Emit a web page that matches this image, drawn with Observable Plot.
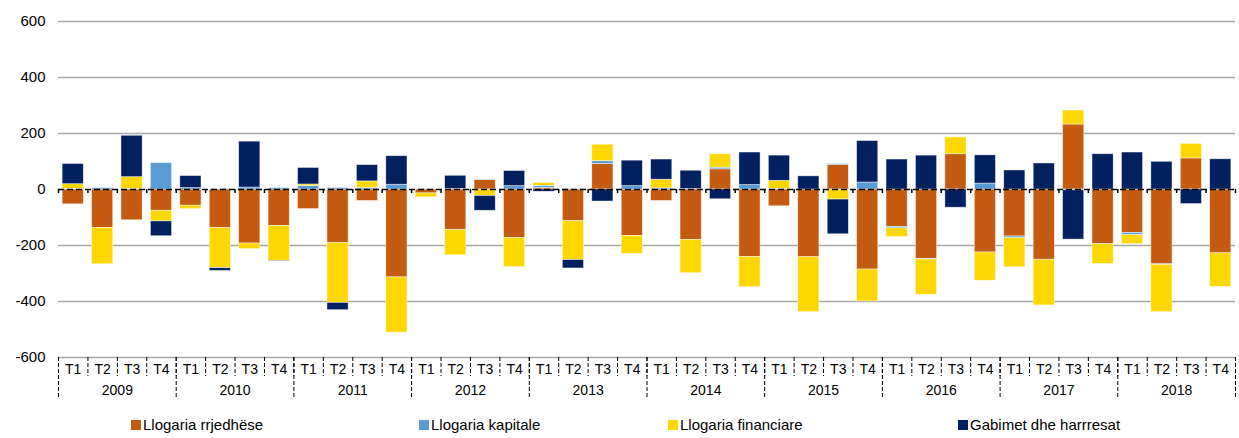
<!DOCTYPE html>
<html>
<head>
<meta charset="utf-8">
<script src="https://cdn.jsdelivr.net/npm/d3@7"></script>
<script src="https://cdn.jsdelivr.net/npm/@observablehq/plot@0.6"></script>
<style>
  body { margin: 0; background: #fff; font-family: "Liberation Sans", Arial, sans-serif; }
  #chart svg { display: block; }
  #legend { position: relative; width: 1239px; height: 33px; }
  .item { position: absolute; top: 11px; font-size: 15px; color: #000; display: flex; align-items: center; white-space: nowrap; }
  .sw { width: 10px; height: 10px; margin-right: 2px; display: inline-block; }
</style>
</head>
<body>
<div id="chart"></div>
<div id="legend"></div>
<script>
const years = ["2009","2010","2011","2012","2013","2014","2015","2016","2017","2018"];
const quarterLabels = ["T1","T2","T3","T4"];
const seriesNames = ["Llogaria rrjedhëse","Llogaria kapitale","Llogaria financiare","Gabimet dhe harrresat"];
const seriesColors = ["#C55A11","#5B9BD5","#FFD700","#002060"];

const rrjedhese = [
  -53,-137,-110,-76,
  -58,-138,-193,-130,
  -70,-191,-41,-314,
  -14,-144,34,-173,
  5,-113,91,-166,
  -41,-180,72,-241,
  -60,-242,88,-286,
  -134,-248,126,-225,
  -168,-251,232,-195,
  -155,-267,111,-228
];
const kapitale = [
  2,5,2,94,
  5,2,7,5,
  12,5,5,17,
  1,2,1,12,
  8,2,10,12,
  4,2,6,16,
  2,0,3,25,
  -5,-2,0,21,
  -6,0,-3,0,
  -8,-2,0,0
];
const financiare = [
  17,-130,42,-38,
  -12,-143,-20,-125,
  6,-214,24,-197,
  -14,-91,-23,-104,
  10,-139,59,-64,
  31,-119,48,-108,
  29,-196,-36,-114,
  -31,-126,60,-101,
  -104,-163,50,-71,
  -32,-169,52,-120
];
const gabimet = [
  72,0,148,-53,
  43,-10,164,-2,
  59,-26,58,102,
  0,47,-53,54,
  -8,-30,-43,91,
  72,65,-35,116,
  90,47,-124,148,
  107,121,-65,101,
  68,93,-176,126,
  132,99,-52,108
];

const W = 1239, H = 405, ML = 58, MR = 4, MT = 21, MB = 48;
const keys = [];
const keyInfo = [];
years.forEach(y => quarterLabels.forEach(q => { keys.push(y + " " + q); keyInfo.push({key: y + " " + q, year: y, q}); }));
const step = (W - ML - MR) / keys.length;
const unitsPerPx = 1200 / (H - MT - MB);

const allSeries = [rrjedhese, kapitale, financiare, gabimet];
const rows = [];
keys.forEach((k, i) => {
  allSeries.forEach((arr, s) => rows.push({q: k, series: seriesNames[s], value: arr[i]}));
});

const yearStarts = keyInfo.filter(d => d.q === "T1").map(d => d.key);
const yearMids = keyInfo.filter(d => d.q === "T2");
const lastKey = [keys[keys.length - 1]];

const chart = Plot.plot({
  width: W, height: H,
  marginLeft: ML, marginRight: MR, marginTop: MT, marginBottom: MB,
  style: {fontFamily: "'Liberation Sans', Arial, sans-serif", fontSize: "15px", color: "#000", background: "#fff"},
  x: {domain: keys, paddingInner: 0.28, paddingOuter: 0.14, round: false, axis: null},
  y: {domain: [-600, 600], ticks: 6, tickSize: 0, tickPadding: 13, label: null, tickFormat: d => String(d)},
  color: {domain: seriesNames, range: seriesColors},
  marks: [
    Plot.ruleY([-600,-400,-200,200,400,600], {stroke: "#A6A6A6", strokeWidth: 1.5}),
    Plot.barY(rows, {x: "q", y: "value", fill: "series", stroke: "#ffffff", strokeWidth: 0.75, strokeOpacity: 0.6}),
    Plot.ruleY([0], {stroke: "#000", strokeWidth: 1.5, strokeDasharray: "6,3"}),
    Plot.ruleX(keys, {x: d => d, dx: -step / 2, y1: 0, y2: -4 * unitsPerPx, stroke: "#000", strokeWidth: 1.5}),
    Plot.ruleX(lastKey, {x: d => d, dx: step / 2, y1: 0, y2: -4 * unitsPerPx, stroke: "#000", strokeWidth: 1.5}),
    Plot.ruleX(keys, {x: d => d, dx: -step / 2, y1: -600, y2: -600 - 19 * unitsPerPx, stroke: "#000", strokeWidth: 1, strokeDasharray: "4,2"}),
    Plot.ruleX(yearStarts, {x: d => d, dx: -step / 2, y1: -600, y2: -600 - 42 * unitsPerPx, stroke: "#000", strokeWidth: 1, strokeDasharray: "4,2"}),
    Plot.ruleX(lastKey, {x: d => d, dx: step / 2, y1: -600, y2: -600 - 42 * unitsPerPx, stroke: "#000", strokeWidth: 1, strokeDasharray: "4,2"}),
    Plot.text(keyInfo, {x: "key", y: () => -600, text: "q", dy: 12, fontSize: 14, fill: "#000"}),
    Plot.text(yearMids, {x: "key", y: () => -600, text: "year", dx: step / 2, dy: 33, fontSize: 14, fill: "#000"})
  ]
});
document.getElementById("chart").appendChild(chart);

const legendPos = [131, 419, 668, 958];
const legend = document.getElementById("legend");
seriesNames.forEach((name, i) => {
  const item = document.createElement("div");
  item.className = "item";
  item.style.left = legendPos[i] + "px";
  const sw = document.createElement("span");
  sw.className = "sw";
  sw.style.background = seriesColors[i];
  item.appendChild(sw);
  item.appendChild(document.createTextNode(name));
  legend.appendChild(item);
});
</script>
</body>
</html>
